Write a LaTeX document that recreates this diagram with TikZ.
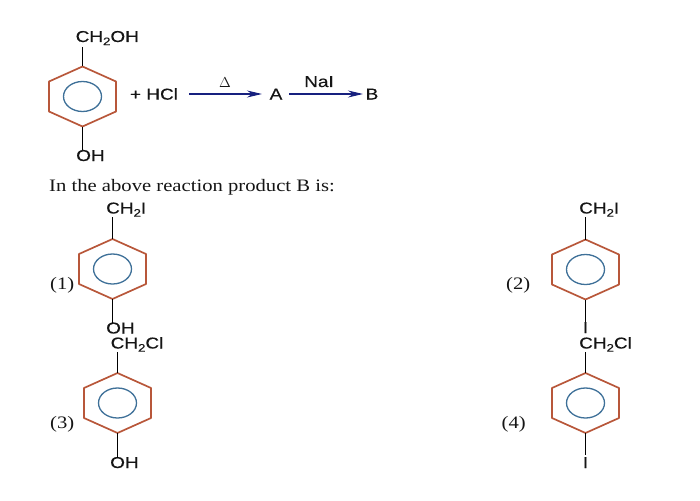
\documentclass[tikz,border=0pt]{standalone}
\usepackage{fontspec}
\setmainfont[FakeStretch=1.18]{Liberation Serif}
\newfontfamily\chemfont[FakeStretch=1.2,FakeBold=0.25]{Liberation Sans}
\usetikzlibrary{arrows.meta}
\definecolor{ringred}{HTML}{B8573A}
\definecolor{ringblue}{HTML}{3E7098}
\definecolor{arrownavy}{HTML}{17207F}
\definecolor{inktext}{HTML}{151515}
\tikzset{
  x=1pt,y=-1pt,
  chem/.style={inner sep=0pt,anchor=base west,text=inktext,font=\chemfont\fontsize{15.8}{15.8}\selectfont},
  serif/.style={inner sep=0pt,anchor=base west,text=inktext,font=\fontsize{17.5}{17.5}\selectfont},
  optlabel/.style={inner sep=0pt,anchor=west,text=inktext,font=\fontsize{17.5}{17.5}\selectfont},
  bond/.style={draw=black,line width=1.5pt},
  hexring/.style={draw=ringred,line width=1.7pt,line join=round},
  innerring/.style={draw=ringblue,line width=1.3pt},
  react/.style={draw=arrownavy,line width=1.2pt,-{Stealth[length=15pt,width=7pt]}},
  pics/benzene/.style={code={
    \coordinate (-top) at (0,-30);
    \coordinate (-bot) at (0,30);
    \draw[hexring] (0,-30) -- (33.5,-15) -- (33.5,15) -- (0,30) -- (-33.5,15) -- (-33.5,-15) -- cycle;
    \draw[innerring] (0,0) ellipse [x radius=19pt,y radius=15pt];
  }}
}
\newcommand{\subtwo}{\raisebox{-3.2pt}{\fontsize{11}{11}\selectfont 2}}
\begin{document}
\begin{tikzpicture}
\useasboundingbox (0,0) rectangle (700,500);
% starting material and reaction
\pic (r0) at (82.5,96.5) {benzene};
\node[chem] (r0a) at (75.5,42) {CH\subtwo OH};
\node[chem] (r0b) at (76,161) {OH};
\coordinate (r0ae) at (82.5,47);
\coordinate (r0be) at (82.5,150);
\draw[bond] (r0ae) -- (r0-top);
\draw[bond] (r0-bot) -- (r0be);
\node[chem,anchor=center] (hcl) at (154,94) {+ HCl};
\node[chem,anchor=base] (pa) at (276,99.5) {A};
\node[chem,anchor=base] (pb) at (372,99.5) {B};
\coordinate (s1) at (189,94);
\coordinate (e1) at (262,94);
\coordinate (s2) at (289,94);
\coordinate (e2) at (363,94);
\draw[react] (s1) -- (e1);
\draw[react] (s2) -- (e2);
\node[inner sep=0pt,text=inktext,font=\fontsize{15}{15}\selectfont] (delta) at (225,83) {$\Delta$};
\node[chem,anchor=base] (nai) at (319,87) {NaI};
\node[serif] (q) at (49,191) {In the above reaction product B is:};
% option 1
\pic (r1) at (112.5,269) {benzene};
\node[chem] (r1a) at (106,213.5) {CH\subtwo I};
\node[chem] (r1b) at (106,333.5) {OH};
\coordinate (r1ae) at (112.5,217);
\coordinate (r1be) at (112.5,323);
\draw[bond] (r1ae) -- (r1-top);
\draw[bond] (r1-bot) -- (r1be);
\node[optlabel] (l1) at (50,285) {(1)};
% option 2
\pic (r2) at (585.5,269.5) {benzene};
\node[chem] (r2a) at (579,213.5) {CH\subtwo I};
\node[chem,anchor=base] (r2b) at (585.5,333) {I};
\coordinate (r2ae) at (585.5,217);
\coordinate (r2be) at (585.5,322);
\draw[bond] (r2ae) -- (r2-top);
\draw[bond] (r2-bot) -- (r2be);
\node[optlabel] (l2) at (506,285) {(2)};
% option 3
\pic (r3) at (117.5,403) {benzene};
\node[chem] (r3a) at (110.5,348.5) {CH\subtwo Cl};
\node[chem] (r3b) at (110,468) {OH};
\coordinate (r3ae) at (117.5,352);
\coordinate (r3be) at (117.5,458);
\draw[bond] (r3ae) -- (r3-top);
\draw[bond] (r3-bot) -- (r3be);
\node[optlabel] (l3) at (50,424) {(3)};
% option 4
\pic (r4) at (585.5,403) {benzene};
\node[chem] (r4a) at (579,348.5) {CH\subtwo Cl};
\node[chem,anchor=base] (r4b) at (585.5,468) {I};
\coordinate (r4ae) at (585.5,352);
\coordinate (r4be) at (585.5,455);
\draw[bond] (r4ae) -- (r4-top);
\draw[bond] (r4-bot) -- (r4be);
\node[optlabel] (l4) at (501.5,424) {(4)};
\end{tikzpicture}
\end{document}
